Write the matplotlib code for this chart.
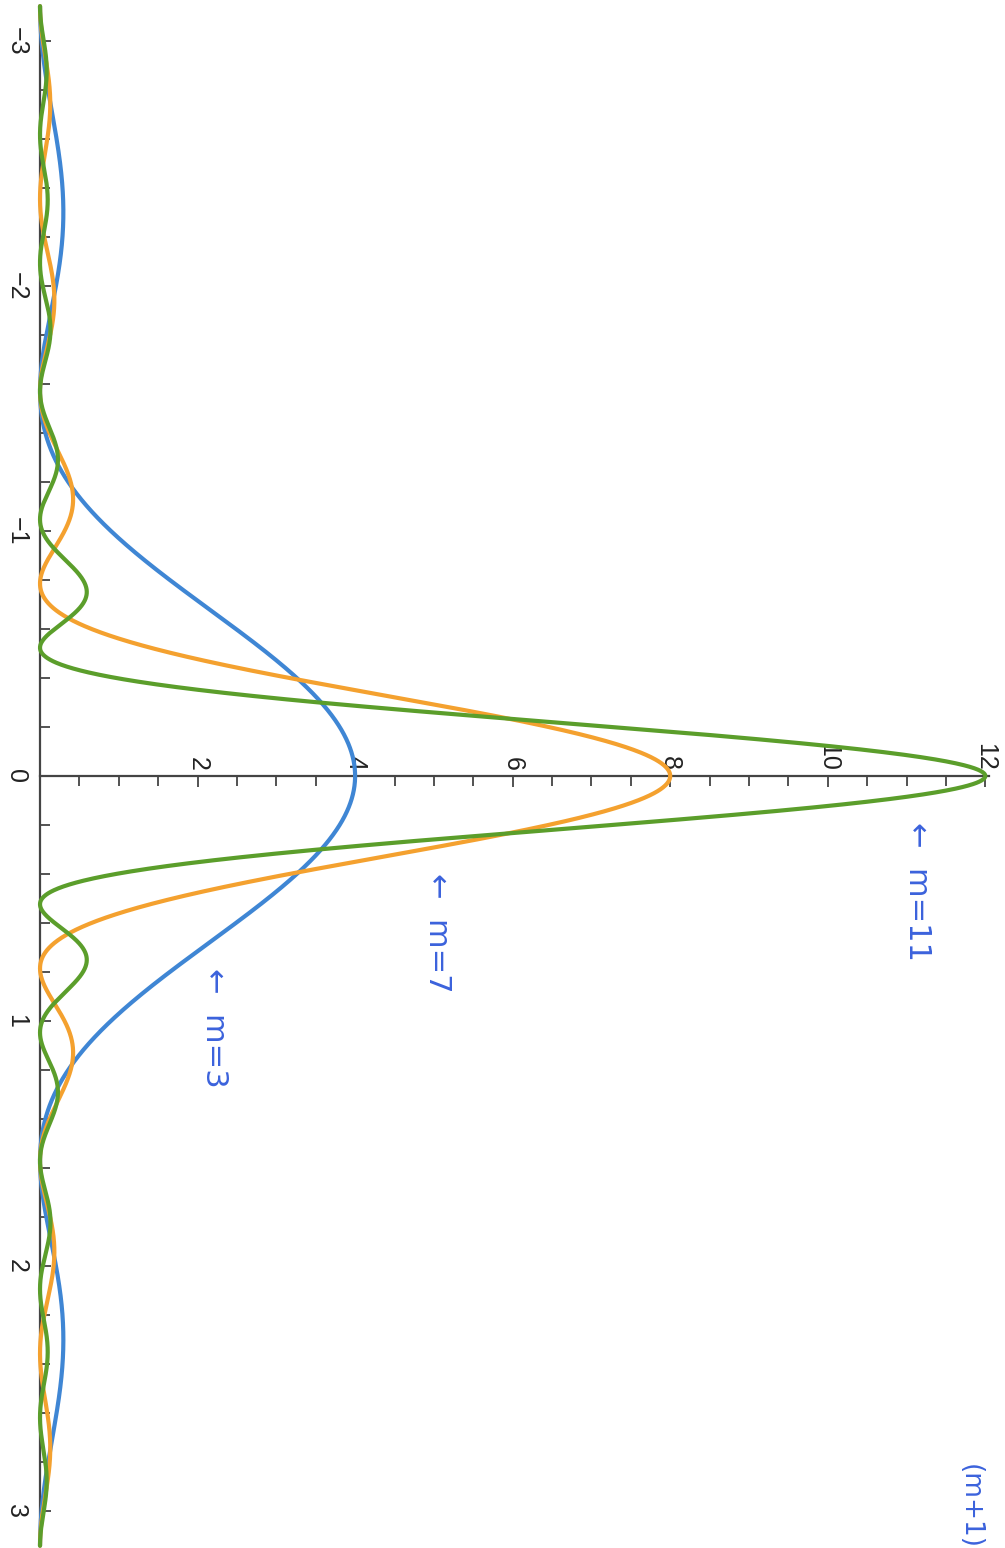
import numpy as np
import matplotlib
matplotlib.use("Agg")
import matplotlib.pyplot as plt
from matplotlib.ticker import FixedLocator

# Fejér kernels F_m(x) = 1/(m+1) * (sin((m+1)x/2) / sin(x/2))^2 on [-pi, pi]
orders = [3, 7, 11]
colors = ["#3f86d4", "#f4a12f", "#5b9e2b"]
labels = ["\u2190  m=3", "\u2190  m=7", "\u2190  m=11"]
value_ticks = [2, 4, 6, 8, 10, 12]
var_ticks = [-3, -2, -1, 0, 1, 2, 3]

t = np.linspace(-np.pi, np.pi, 4001)


def fejer(m, x):
    s = np.sin(x / 2.0)
    num = np.sin((m + 1) * x / 2.0)
    safe = np.abs(s) > 1e-12
    ratio = np.where(safe, num / np.where(safe, s, 1.0), m + 1.0)
    return ratio ** 2 / (m + 1.0)


plt.rcParams["font.family"] = ["Liberation Sans", "DejaVu Sans"]

fig = plt.figure(figsize=(10.05, 15.48), dpi=100)
ax = fig.add_axes([0, 0, 1, 1])

# The kernel value runs to the right, the variable runs downward
for m, c in zip(orders, colors):
    ax.plot(fejer(m, t), t, color=c, lw=3.0, solid_capstyle="round", zorder=3)

ax.set_xlim(-0.508, 12.25)
ax.set_ylim(3.151, -3.167)

for side in ("right", "bottom"):
    ax.spines[side].set_visible(False)
ax.spines["left"].set_position(("data", 0))
ax.spines["left"].set_bounds(-np.pi, np.pi)
ax.spines["top"].set_position(("data", 0))
ax.spines["top"].set_bounds(0, 12.05)
for side in ("left", "top"):
    ax.spines[side].set_color("#444444")
    ax.spines[side].set_linewidth(1.6)
    ax.spines[side].set_zorder(2)

ax.xaxis.set_ticks_position("top")
ax.xaxis.set_label_position("top")
ax.set_xticks(value_ticks)
ax.set_xticklabels([str(v) for v in value_ticks])
ax.xaxis.set_minor_locator(FixedLocator(np.arange(0.5, 12.0, 0.5)))
ax.set_yticks(var_ticks)
ax.set_yticklabels([("\u2212" if v < 0 else "") + str(abs(v)) for v in var_ticks])
ax.yaxis.set_minor_locator(FixedLocator(np.round(np.arange(-3.0, 3.01, 0.2), 2)))

ax.tick_params(axis="both", which="both", direction="in", color="#444444",
               width=1.3, labelsize=18, labelcolor="#222222")
ax.tick_params(axis="both", which="major", length=8)
ax.tick_params(axis="both", which="minor", length=7)
ax.tick_params(axis="x", pad=4, labelrotation=-90)
ax.tick_params(axis="y", pad=17, labelrotation=-90)
for lab in ax.get_yticklabels():
    lab.set_verticalalignment("center")
    lab.set_horizontalalignment("center")
for lab in ax.get_xticklabels():
    lab.set_horizontalalignment("center")

# Handwritten notes
ink = "#3b62dc"
note_pos = [(2.22, 1.03), (5.04, 0.64), (11.14, 0.47)]
for (xv, yv), txt in zip(note_pos, labels):
    ax.text(xv, yv, txt, rotation=-90, color=ink, fontsize=22,
            ha="center", va="center", family=["DejaVu Sans"])
ax.text(11.8, 2.98, "(m+1)", rotation=-90, color=ink, fontsize=19,
        ha="center", va="center", family=["DejaVu Sans"])

fig.savefig("out.png", dpi=100, facecolor="white")
